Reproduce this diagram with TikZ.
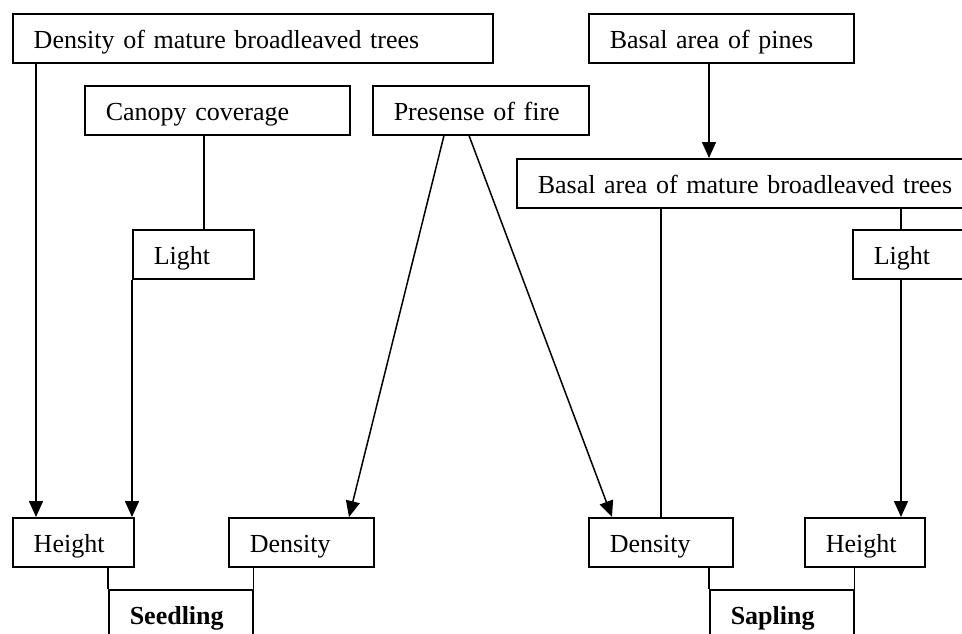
\documentclass[tikz,border=0pt]{standalone}
\usepackage{fontspec}
\setmainfont{Liberation Serif}
\usetikzlibrary{arrows.meta}
\tikzset{
  bx/.style={draw, line width=1.5pt, inner xsep=21pt, inner ysep=0pt,
    text height=20pt, text depth=0pt, minimum height=49pt, align=left,
    anchor=north west, font=\fontsize{26}{30}\selectfont},
  ln/.style={line width=1.5pt},
  arr/.style={line width=1.5pt, -{Triangle[length=16pt, width=14pt]}}
}
\begin{document}
\begin{tikzpicture}[x=1pt, y=-1pt]
\useasboundingbox (0,0) rectangle (962,633);
\clip (0,0) rectangle (962,633);
% boxes
\node[bx, text width=438pt] (dmb) at (12,13) {Density of mature broadleaved trees};
\node[bx, text width=223pt] (pines) at (588,13) {Basal area of pines};
\node[bx, text width=223pt] (canopy) at (84,85) {Canopy coverage};
\node[bx, text width=174pt] (fire) at (372,85) {Presense of fire};
\node[bx, text width=438pt] (bamb) at (516,158) {Basal area of mature broadleaved trees};
\node[bx, text width=79pt] (light1) at (132,229) {Light};
\node[bx, text width=79pt] (light2) at (852,229) {Light};
\node[bx, text width=79pt] (h1) at (12,517) {Height};
\node[bx, text width=103pt] (d1) at (228,517) {Density};
\node[bx, text width=102pt] (d2) at (588,517) {Density};
\node[bx, text width=78pt] (h2) at (804,517) {Height};
\node[bx, text width=102pt, font=\fontsize{26}{30}\selectfont\bfseries] (seed) at (108,589) {Seedling};
\node[bx, text width=102pt, font=\fontsize{26}{30}\selectfont\bfseries] (sap) at (709,589) {Sapling};
% connectors
\draw[arr] ([xshift=24pt]dmb.south west) -- ([xshift=24pt]h1.north west);
\draw[ln] ([xshift=120pt]canopy.south west) -- ([xshift=72pt]light1.north west);
\draw[arr] (light1.south west) -- (light1.south west |- h1.north);
\draw[arr] ([xshift=72pt]fire.south west) -- ([xshift=121pt]d1.north west);
\draw[arr] ([xshift=97pt]fire.south west) -- ([xshift=24pt]d2.north west);
\draw[arr] ([xshift=121pt]pines.south west) -- ([xshift=193pt]bamb.north west);
\draw[ln] ([xshift=145pt]bamb.south west) -- ([xshift=73pt]d2.north west);
\draw[ln] ([xshift=385pt]bamb.south west) -- ([xshift=49pt]light2.north west);
\draw[arr] ([xshift=49pt]light2.south west) -- ([xshift=97pt]h2.north west);
\draw[ln] (seed.north west |- h1.south) -- (seed.north west);
\draw[ln] (seed.north east |- d1.south) -- (seed.north east);
\draw[ln] (sap.north west |- d2.south) -- (sap.north west);
\draw[ln] (sap.north east |- h2.south) -- (sap.north east);
\end{tikzpicture}
\end{document}
